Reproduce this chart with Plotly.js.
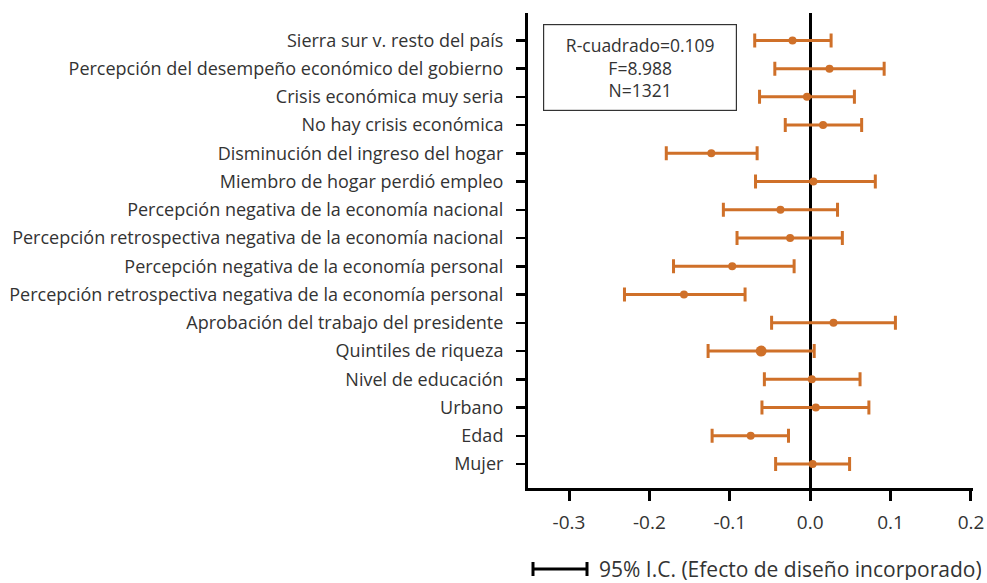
<!DOCTYPE html>
<html>
<head>
<meta charset="utf-8">
<script src="https://cdn.plot.ly/plotly-3.0.1.min.js"></script>
<style>html,body{margin:0;padding:0;background:#fff;}#chart{width:987px;height:583px;}</style>
</head>
<body>
<div id="chart"></div>
<script>
// Categories from top to bottom as shown
const categories = [
  "Sierra sur v. resto del país",
  "Percepción del desempeño económico del gobierno",
  "Crisis económica muy seria",
  "No hay crisis económica",
  "Disminución del ingreso del hogar",
  "Miembro de hogar perdió empleo",
  "Percepción negativa de la economía nacional",
  "Percepción retrospectiva negativa de la economía nacional",
  "Percepción negativa de la economía personal",
  "Percepción retrospectiva negativa de la economía personal",
  "Aprobación del trabajo del presidente",
  "Quintiles de riqueza",
  "Nivel de educación",
  "Urbano",
  "Edad",
  "Mujer"
];
const coef  = [-0.022, 0.024, -0.004, 0.016, -0.123, 0.004, -0.037, -0.025, -0.097, -0.157, 0.029, -0.061, 0.002, 0.007, -0.074, 0.003];
const lower = [-0.069, -0.044, -0.063, -0.031, -0.179, -0.068, -0.108, -0.091, -0.170, -0.231, -0.048, -0.127, -0.057, -0.060, -0.122, -0.043];
const upper = [0.026, 0.092, 0.055, 0.064, -0.066, 0.081, 0.034, 0.040, -0.020, -0.081, 0.106, 0.005, 0.062, 0.073, -0.027, 0.049];
const markerSizes = [8,8,8,8,8,8,8,8,8,8,8,11,8,8,8,8];
const xTicks = [-0.3, -0.2, -0.1, 0.0, 0.1, 0.2];
const xTickText = ["-0.3", "-0.2", "-0.1", "0.0", "0.1", "0.2"];
const statsText = ["R-cuadrado=0.109", "F=8.988", "N=1321"];
const legendText = "95% I.C. (Efecto de diseño incorporado)";

const orange = "#cf7029";
const fontFam = "'Open Sans', Roboto, 'Liberation Sans', Arial, sans-serif";
const textColor = "#333";

const trace = {
  type: "scatter",
  mode: "markers",
  x: coef,
  y: categories,
  marker: {color: orange, size: markerSizes, opacity: 1, line: {width: 0}},
  error_x: {
    type: "data",
    symmetric: false,
    array: coef.map((c, i) => upper[i] - c),
    arrayminus: coef.map((c, i) => c - lower[i]),
    color: orange,
    thickness: 3,
    width: 7
  },
  hoverinfo: "x+y",
  showlegend: false
};

const legY = 569;

const layout = {
  width: 987, height: 583,
  margin: {l: 528, r: 14, t: 13, b: 95},
  paper_bgcolor: "#fff", plot_bgcolor: "#fff",
  font: {family: fontFam, size: 16, color: textColor},
  showlegend: false,
  xaxis: {
    range: [-0.351, 0.2025],
    tickvals: xTicks, ticktext: xTickText,
    showgrid: false,
    zeroline: true, zerolinecolor: "#000", zerolinewidth: 3,
    showline: true, linecolor: "#000", linewidth: 3,
    ticks: "outside", ticklen: 10, tickwidth: 3, tickcolor: "#000",
    tickfont: {size: 19, color: textColor},
    ticklabelstandoff: 5,
    fixedrange: true
  },
  yaxis: {
    type: "category",
    categoryorder: "array",
    categoryarray: categories.slice().reverse(),
    range: [-0.85, 15.97],
    showgrid: false, zeroline: false,
    showline: true, linecolor: "#000", linewidth: 3,
    ticks: "outside", ticklen: 9, tickwidth: 2.5, tickcolor: "#000",
    tickfont: {size: 18, color: textColor},
    ticklabelstandoff: 9,
    fixedrange: true
  },
  annotations: [
    {
      xref: "paper", yref: "paper",
      x: (640 - 528) / 445, y: 1 - (67.5 - 13) / 475,
      xanchor: "center", yanchor: "middle",
      text: statsText.join("<br>"),
      showarrow: false,
      align: "center", valign: "middle",
      font: {size: 17.5, color: textColor},
      bordercolor: "#333", borderwidth: 1.2,
      borderpad: 5,
      bgcolor: "#fff",
      width: 182, height: 75
    },
    {
      xref: "paper", yref: "paper",
      x: (598 - 528) / 445, y: -(legY - 488) / 475,
      xanchor: "left", yanchor: "middle",
      text: legendText,
      showarrow: false,
      valign: "middle",
      height: 22, borderpad: 0,
      font: {size: 21, color: textColor}
    }
  ],
  shapes: [
    {type: "line", xref: "paper", yref: "paper",
     x0: (532 - 528) / 445, x1: (588 - 528) / 445,
     y0: -(legY - 488) / 475, y1: -(legY - 488) / 475,
     line: {color: "#000", width: 3}},
    {type: "line", xref: "paper", yref: "paper",
     x0: (533 - 528) / 445, x1: (533 - 528) / 445,
     y0: -(legY - 7 - 488) / 475, y1: -(legY + 7 - 488) / 475,
     line: {color: "#000", width: 3}},
    {type: "line", xref: "paper", yref: "paper",
     x0: (587 - 528) / 445, x1: (587 - 528) / 445,
     y0: -(legY - 7 - 488) / 475, y1: -(legY + 7 - 488) / 475,
     line: {color: "#000", width: 3}}
  ]
};

Plotly.newPlot("chart", [trace], layout, {displayModeBar: false, staticPlot: true});
</script>
</body>
</html>
